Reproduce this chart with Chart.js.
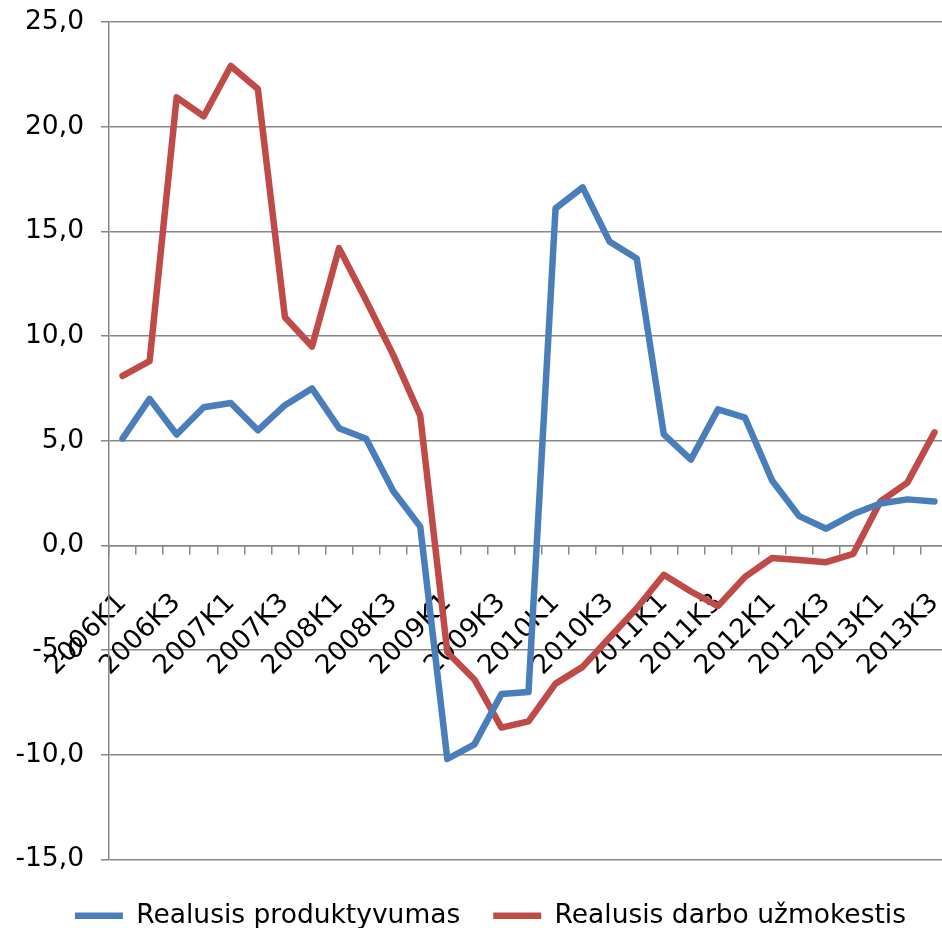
<!DOCTYPE html>
<html>
<head>
<meta charset="utf-8">
<script src="https://cdn.jsdelivr.net/npm/chart.js@4.4.1/dist/chart.umd.min.js"></script>
<style>
  html, body { margin: 0; padding: 0; background: #fff; overflow: hidden; }
  canvas { display: block; }
</style>
</head>
<body>
<canvas id="c" width="981" height="928"></canvas>
<script>
const categories = [
  '2006K1','2006K2','2006K3','2006K4',
  '2007K1','2007K2','2007K3','2007K4',
  '2008K1','2008K2','2008K3','2008K4',
  '2009K1','2009K2','2009K3','2009K4',
  '2010K1','2010K2','2010K3','2010K4',
  '2011K1','2011K2','2011K3','2011K4',
  '2012K1','2012K2','2012K3','2012K4',
  '2013K1','2013K2','2013K3'
];
const seriesNames = ['Realusis produktyvumas', 'Realusis darbo užmokestis'];
const productivity = [5.1, 7.0, 5.3, 6.6, 6.8, 5.5, 6.7, 7.5, 5.6, 5.1, 2.6, 0.9,
  -10.2, -9.5, -7.1, -7.0, 16.1, 17.1, 14.5, 13.7, 5.3, 4.1, 6.5, 6.1,
  3.1, 1.4, 0.8, 1.5, 2.0, 2.2, 2.1];
const wages = [8.1, 8.8, 21.4, 20.5, 22.9, 21.8, 10.9, 9.5, 14.2, 11.7, 9.1, 6.2,
  -5.1, -6.4, -8.7, -8.4, -6.6, -5.8, -4.4, -3.0, -1.4, -2.2, -2.9, -1.5,
  -0.6, -0.7, -0.8, -0.4, 2.1, 3.0, 5.4];
const yMin = -15, yMax = 25, yStep = 5;

const FONT = 'DejaVu Sans';
const FSIZE = 26.5;
const GRID = '#878787';

Chart.defaults.font.family = FONT;
Chart.defaults.color = '#000';

new Chart(document.getElementById('c'), {
  type: 'line',
  data: {
    labels: categories,
    datasets: [
      { label: seriesNames[0], data: productivity, borderColor: '#4A7EBB', backgroundColor: '#4A7EBB',
        borderWidth: 6.5, pointRadius: 0, tension: 0, borderJoinStyle: 'round', borderCapStyle: 'round', fill: false },
      { label: seriesNames[1], data: wages, borderColor: '#BE4B48', backgroundColor: '#BE4B48',
        borderWidth: 6.5, pointRadius: 0, tension: 0, borderJoinStyle: 'round', borderCapStyle: 'round', fill: false }
    ]
  },
  options: {
    responsive: false,
    animation: false,
    devicePixelRatio: 1,
    layout: { padding: { left: 0, right: 0, top: 22, bottom: -11 } },
    plugins: {
      tooltip: { enabled: false },
      legend: {
        position: 'bottom',
        title: { display: true, text: '', padding: 0, font: { size: 10, lineHeight: 1.0 } },
        labels: {
          usePointStyle: true,
          pointStyle: 'line',
          pointStyleWidth: 48,
          padding: 33,
          color: '#000',
          font: { size: FSIZE, family: FONT }
        }
      }
    },
    scales: {
      x: {
        type: 'category',
        position: { y: 0 },
        offset: true,
        grid: { offset: true, drawOnChartArea: false, drawTicks: true, tickLength: 8, color: GRID, lineWidth: 1.5 },
        border: { color: GRID, width: 1.5 },
        ticks: {
          autoSkip: false,
          maxRotation: 45,
          minRotation: 45,
          padding: 34,
          color: '#000',
          font: { size: FSIZE, family: FONT },
          callback: function(v, i) { return i % 2 === 0 ? categories[i] : ''; }
        },
        afterFit: function(s) { s.paddingLeft = 0; s.paddingRight = 0; }
      },
      y: {
        min: yMin, max: yMax,
        grid: { color: GRID, lineWidth: 1.5, drawTicks: true, tickLength: 8 },
        border: { color: GRID, width: 1.5 },
        ticks: {
          stepSize: yStep,
          padding: 17,
          color: '#000',
          font: { size: FSIZE, family: FONT },
          callback: function(v) { return v.toFixed(1).replace('.', ','); }
        },
        afterFit: function(s) { s.width = 109; s.paddingTop = 0; s.paddingBottom = 0; }
      },
      spacer: {
        type: 'linear',
        position: 'right',
        display: true,
        grid: { display: false },
        border: { display: false },
        ticks: { display: false },
        afterFit: function(s) { s.width = 33; s.paddingTop = 0; s.paddingBottom = 0; }
      }
    }
  }
});
</script>
</body>
</html>
